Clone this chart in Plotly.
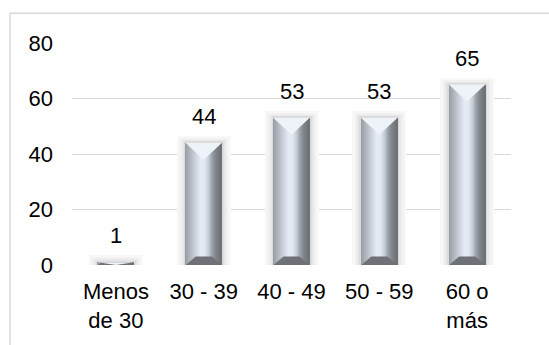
import plotly.graph_objects as go

categories = ["Menos<br>de 30", "30 - 39", "40 - 49", "50 - 59", "60 o<br>más"]
values = [1, 44, 53, 53, 65]
y_ticks = [0, 20, 40, 60, 80]

FONT = "Liberation Sans, Arial, sans-serif"
W, H = 549, 345
ML, MR, MT, MB = 72, 38, 43, 78
plot_w = W - ML - MR
plot_h = H - MT - MB
YMAX = 80
kx = 1.0 / (plot_w / len(categories))   # x units per pixel
ky = YMAX / plot_h                      # y units per pixel

xs = list(range(len(categories)))
BW = 0.41
half = BW / 2

fig = go.Figure()

# soft glow around bars
for extra_px, top_px, col in [(18, 7, "#f8f8f8"), (13, 5, "#f1f1f1"), (8, 3, "#e7e7e7"), (4, 1.5, "#dcdcdc")]:
    fig.add_trace(go.Bar(
        x=xs, y=[v + top_px * ky for v in values], width=BW + extra_px * kx,
        marker=dict(color=col, line=dict(width=0)), hoverinfo="skip", showlegend=False))

# smooth horizontal gradient (bevel look) built from thin strips
stops = [
    (0, (0x98, 0x9c, 0xa4)),
    (6, (0xb6, 0xba, 0xc3)),
    (11, (0xd0, 0xd5, 0xdf)),
    (16, (0xe7, 0xed, 0xf7)),
    (20, (0xe0, 0xe6, 0xf0)),
    (24, (0xc2, 0xc7, 0xd0)),
    (27, (0x9c, 0xa0, 0xa8)),
    (30, (0x84, 0x88, 0x8f)),
    (36, (0x6c, 0x6f, 0x75)),
]
total_px = 36


def col_at(p):
    for (p0, c0), (p1, c1) in zip(stops[:-1], stops[1:]):
        if p0 <= p <= p1:
            t = (p - p0) / (p1 - p0)
            c = [round(a + (b - a) * t) for a, b in zip(c0, c1)]
            return "rgb(%d,%d,%d)" % tuple(c)
    return "rgb(%d,%d,%d)" % stops[-1][1]


for i in range(total_px):
    fig.add_trace(go.Bar(
        x=xs, y=values, width=BW * 1.15 / total_px,
        offset=-half + BW * i / total_px,
        marker=dict(color=col_at(i + 0.5), line=dict(width=0)),
        hoverinfo="skip", showlegend=False))

# bottom trapezoid facet
bx_in = 10 * kx
by_h = 8.5 * ky
px, py = [], []
for x, v in zip(xs, values):
    h = min(by_h, v)
    inset = bx_in * (h / by_h)
    px += [x - half, x + half, x + half - inset, x - half + inset, x - half, None]
    py += [0, 0, h, h, 0, None]
fig.add_trace(go.Scatter(x=px, y=py, mode="lines", fill="toself", fillcolor="#6e7177",
                         line=dict(width=0, color="#6e7177"), hoverinfo="skip", showlegend=False))

# top triangle facet
tri_d = 17 * ky
tx, ty = [], []
for x, v in zip(xs, values):
    d = min(tri_d, v)
    tx += [x - half, x + half, x, x - half, None]
    ty += [v, v, v - d, v, None]
fig.add_trace(go.Scatter(x=tx, y=ty, mode="lines", fill="toself", fillcolor="#eef2f9",
                         line=dict(width=0, color="#eef2f9"), hoverinfo="skip", showlegend=False))

# data labels
for x, v in zip(xs, values):
    fig.add_annotation(x=x, y=v, text=str(v), showarrow=False, yanchor="bottom",
                       yshift=12, font=dict(family=FONT, size=22, color="#000000"))

# outer chart frame
fig.add_shape(type="rect", xref="paper", yref="paper",
              x0=(10 - ML) / plot_w, x1=1.5,
              y0=-1.0, y1=(H - MB - 13) / plot_h,
              line=dict(color="#d9d9d9", width=1.5), layer="below")

fig.update_layout(
    width=W, height=H,
    margin=dict(l=ML, r=MR, t=MT, b=MB),
    paper_bgcolor="white", plot_bgcolor="white",
    barmode="overlay", bargap=0,
    font=dict(family=FONT, size=22, color="#000000"),
    showlegend=False,
)
fig.update_xaxes(
    range=[-0.5, len(categories) - 0.5], tickmode="array", tickvals=xs, ticktext=categories,
    showgrid=False, zeroline=False, showline=False, ticks="", ticklabelstandoff=11,
    tickfont=dict(family=FONT, size=22, color="#000000"),
)
fig.update_yaxes(
    range=[0, YMAX], tickmode="array", tickvals=y_ticks,
    showgrid=True, gridcolor="#d9d9d9", gridwidth=1, zeroline=False, showline=False,
    ticks="", ticklabelstandoff=18,
    tickfont=dict(family=FONT, size=22, color="#000000"),
)

fig.write_html("out.html")
